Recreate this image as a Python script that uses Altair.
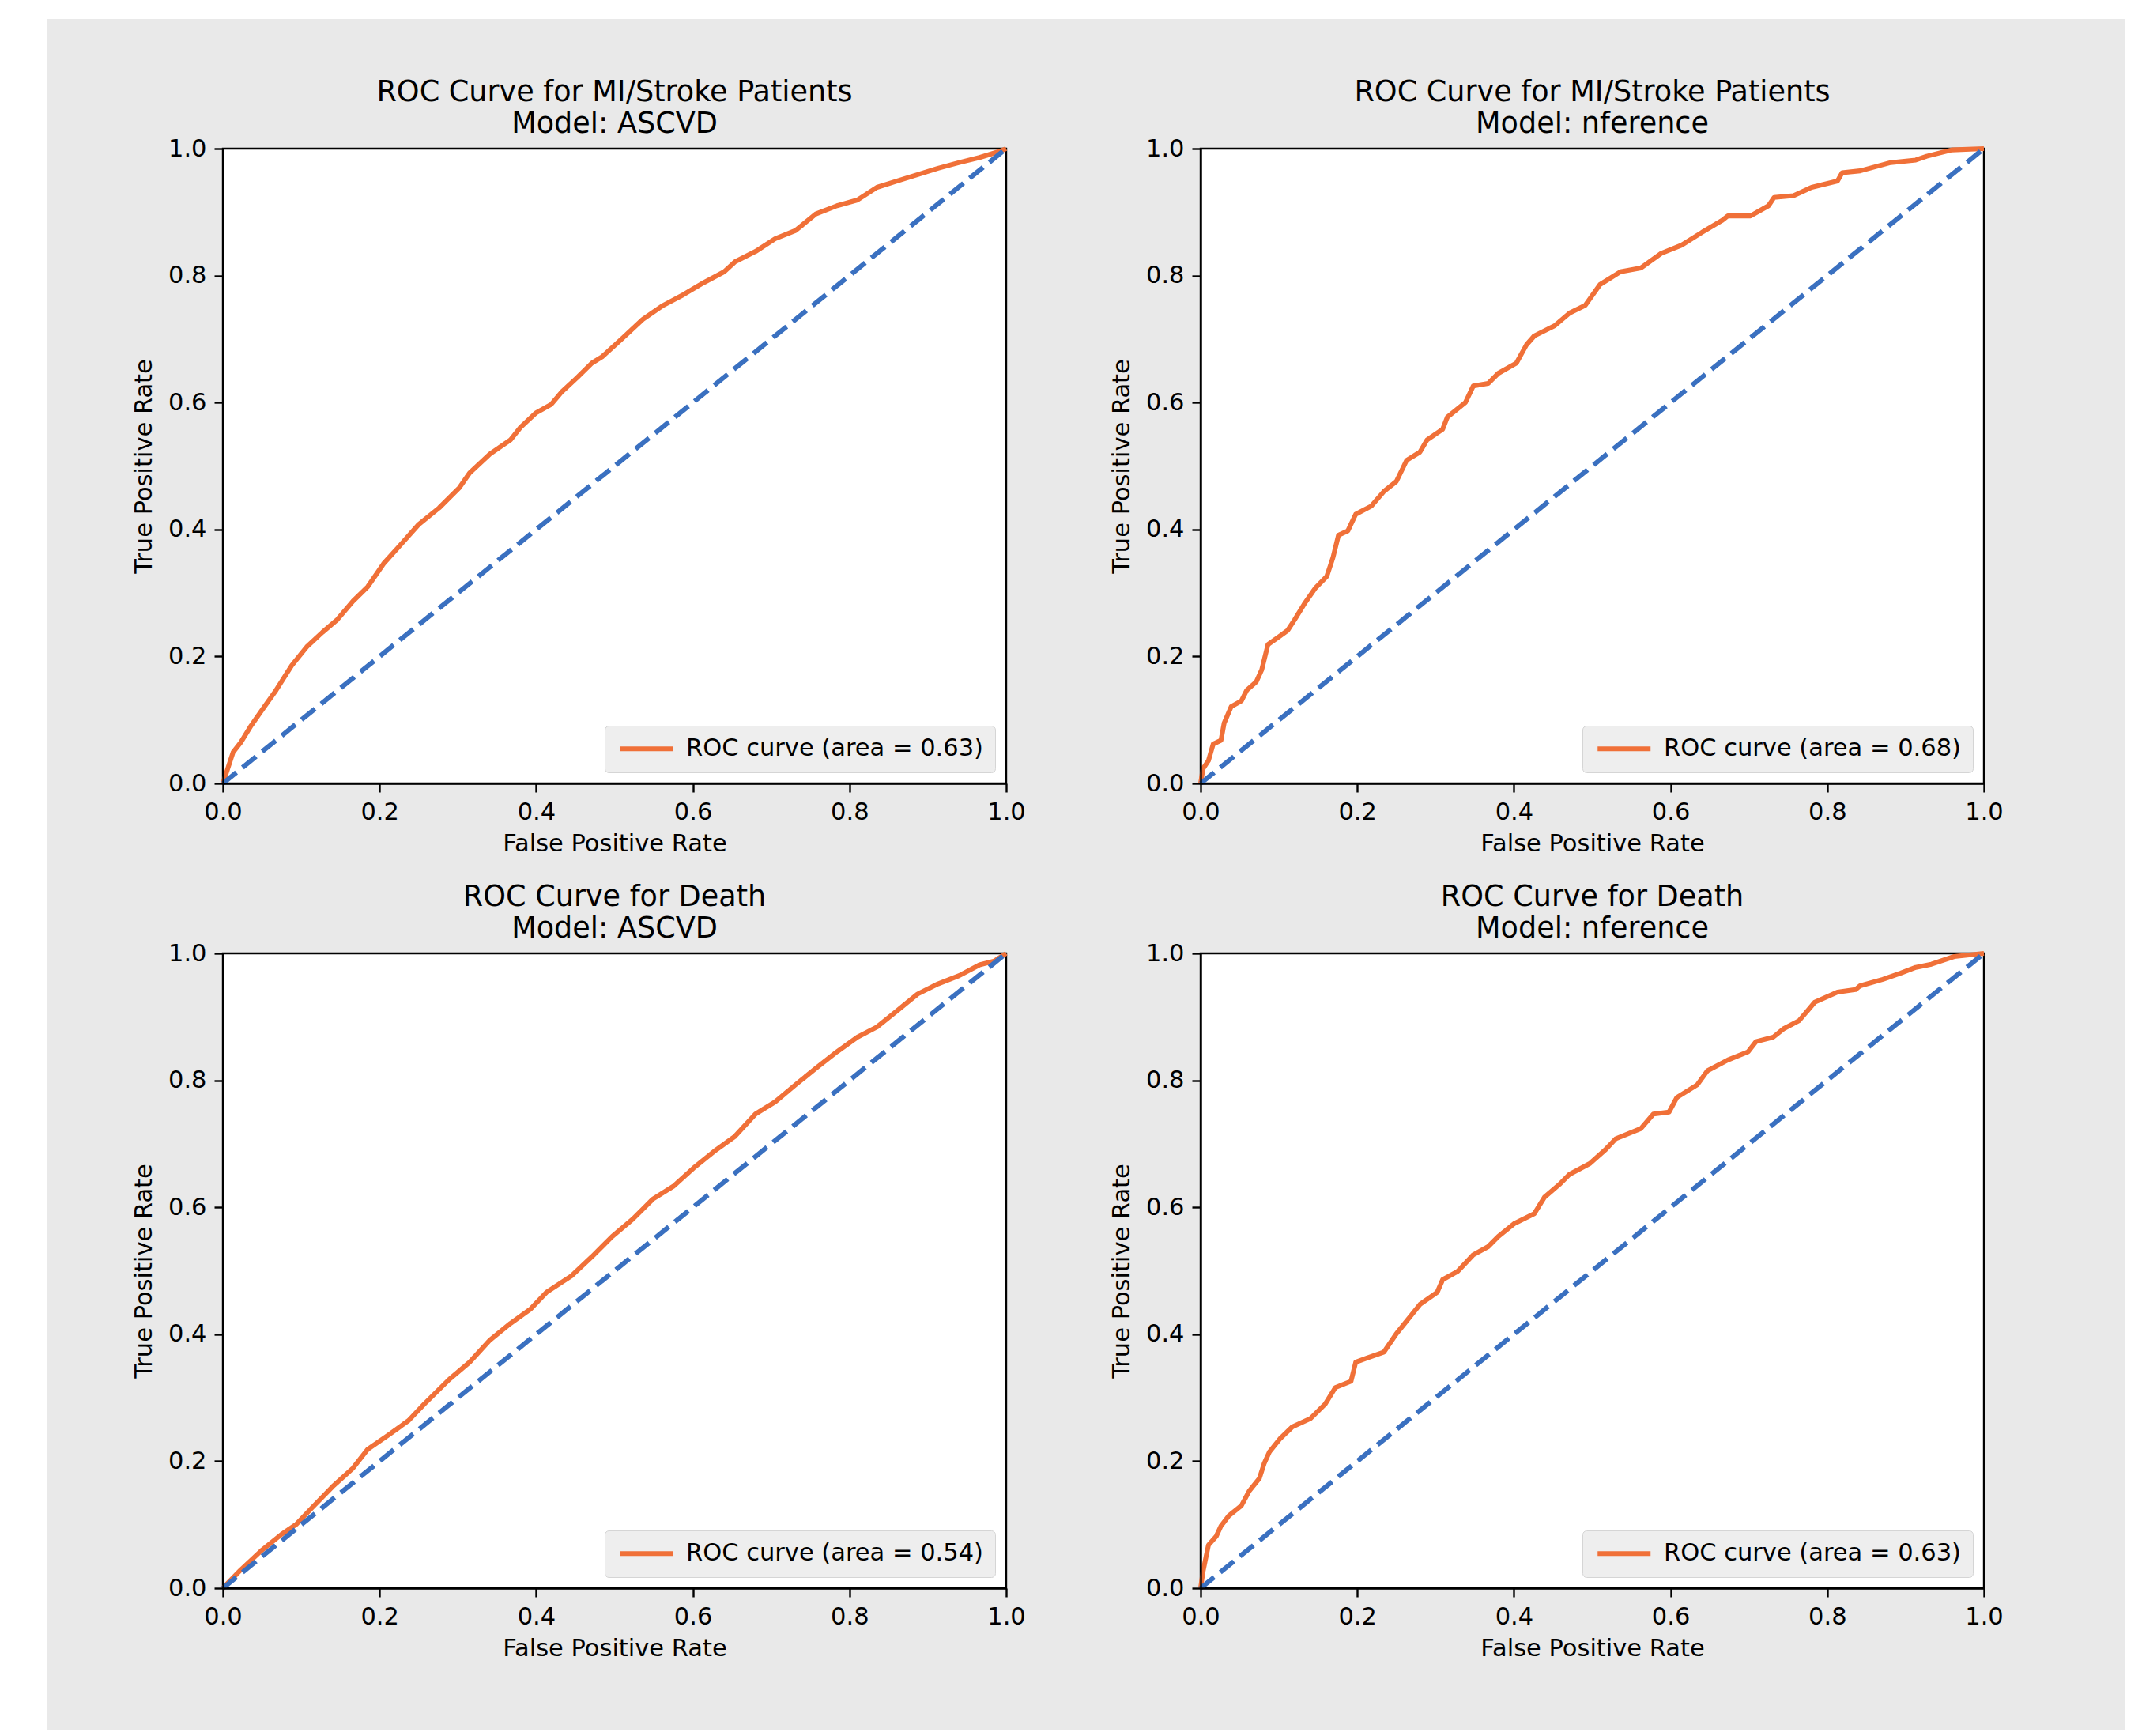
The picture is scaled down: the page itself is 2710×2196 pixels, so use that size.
import altair as alt
import pandas as pd

ORANGE = "#f07038"
BLUE = "#3a70c0"
BG = "#e9e9e9"
FONT = "DejaVu Sans"

tick_values = [0.0, 0.2, 0.4, 0.6, 0.8, 1.0]

# Panel 1: MI/Stroke, ASCVD
fpr_mi_ascvd = [0.0, 0.013, 0.023, 0.036, 0.049, 0.068, 0.088, 0.107, 0.127, 0.146, 0.166, 0.185, 0.205,
                0.224, 0.250, 0.276, 0.302, 0.315, 0.341, 0.367, 0.380, 0.400, 0.419, 0.432, 0.452, 0.471,
                0.484, 0.510, 0.536, 0.562, 0.588, 0.614, 0.640, 0.654, 0.680, 0.705, 0.731, 0.744, 0.757,
                0.784, 0.810, 0.835, 0.861, 0.887, 0.913, 0.940, 0.966, 0.990, 1.0]
tpr_mi_ascvd = [0.0, 0.049, 0.065, 0.091, 0.114, 0.147, 0.186, 0.215, 0.238, 0.258, 0.287, 0.310, 0.346,
                0.372, 0.408, 0.434, 0.466, 0.489, 0.519, 0.541, 0.561, 0.584, 0.597, 0.616, 0.639, 0.662,
                0.672, 0.701, 0.731, 0.753, 0.770, 0.789, 0.806, 0.822, 0.838, 0.858, 0.871, 0.884, 0.897,
                0.910, 0.919, 0.939, 0.949, 0.959, 0.969, 0.978, 0.986, 0.995, 1.0]

# Panel 2: MI/Stroke, nference
fpr_mi_nf = [0.0, 0.003, 0.010, 0.016, 0.026, 0.030, 0.039, 0.052, 0.059, 0.071, 0.078, 0.086, 0.101, 0.111,
             0.120, 0.133, 0.146, 0.161, 0.169, 0.176, 0.188, 0.198, 0.218, 0.234, 0.250, 0.263, 0.280, 0.289,
             0.309, 0.315, 0.338, 0.348, 0.367, 0.380, 0.403, 0.416, 0.426, 0.452, 0.471, 0.491, 0.510, 0.536,
             0.562, 0.588, 0.614, 0.640, 0.666, 0.673, 0.702, 0.725, 0.732, 0.757, 0.780, 0.813, 0.819, 0.842,
             0.881, 0.913, 0.927, 0.959, 1.0]
tpr_mi_nf = [0.0, 0.023, 0.036, 0.062, 0.068, 0.095, 0.121, 0.130, 0.147, 0.160, 0.179, 0.219, 0.232, 0.241,
             0.258, 0.284, 0.307, 0.326, 0.356, 0.391, 0.398, 0.424, 0.437, 0.460, 0.476, 0.509, 0.522, 0.541,
             0.558, 0.577, 0.600, 0.626, 0.630, 0.646, 0.662, 0.691, 0.705, 0.721, 0.741, 0.753, 0.786, 0.806,
             0.812, 0.835, 0.848, 0.868, 0.887, 0.894, 0.894, 0.910, 0.923, 0.926, 0.939, 0.949, 0.962, 0.965,
             0.978, 0.982, 0.988, 0.998, 1.0]

# Panel 3: Death, ASCVD
fpr_death_ascvd = [0.0, 0.023, 0.049, 0.075, 0.094, 0.114, 0.140, 0.166, 0.185, 0.211, 0.237, 0.257, 0.289,
                   0.315, 0.341, 0.367, 0.393, 0.413, 0.445, 0.471, 0.497, 0.523, 0.549, 0.575, 0.601, 0.627,
                   0.653, 0.680, 0.705, 0.731, 0.757, 0.784, 0.810, 0.835, 0.861, 0.887, 0.913, 0.940, 0.966,
                   0.985, 1.0]
tpr_death_ascvd = [0.0, 0.029, 0.059, 0.085, 0.101, 0.127, 0.160, 0.189, 0.219, 0.241, 0.264, 0.290, 0.329,
                   0.356, 0.391, 0.417, 0.440, 0.466, 0.492, 0.522, 0.554, 0.581, 0.613, 0.633, 0.662, 0.688,
                   0.711, 0.747, 0.766, 0.793, 0.819, 0.845, 0.868, 0.884, 0.910, 0.936, 0.952, 0.965, 0.982,
                   0.988, 1.0]

# Panel 4: Death, nference
fpr_death_nf = [0.0, 0.003, 0.010, 0.020, 0.026, 0.036, 0.052, 0.062, 0.075, 0.081, 0.088, 0.101, 0.117,
                0.140, 0.159, 0.172, 0.192, 0.198, 0.211, 0.234, 0.250, 0.267, 0.280, 0.302, 0.309, 0.328,
                0.348, 0.367, 0.380, 0.400, 0.426, 0.439, 0.458, 0.471, 0.497, 0.517, 0.530, 0.562, 0.578,
                0.598, 0.608, 0.634, 0.647, 0.673, 0.699, 0.709, 0.731, 0.744, 0.764, 0.784, 0.813, 0.836,
                0.842, 0.871, 0.894, 0.913, 0.933, 0.962, 1.0]
tpr_death_nf = [0.0, 0.026, 0.068, 0.082, 0.098, 0.114, 0.130, 0.153, 0.173, 0.196, 0.215, 0.235, 0.254,
                0.267, 0.290, 0.316, 0.326, 0.356, 0.362, 0.372, 0.401, 0.427, 0.447, 0.466, 0.486, 0.499,
                0.525, 0.538, 0.554, 0.574, 0.590, 0.616, 0.636, 0.652, 0.669, 0.691, 0.708, 0.724, 0.747,
                0.750, 0.773, 0.793, 0.815, 0.832, 0.845, 0.861, 0.868, 0.881, 0.894, 0.923, 0.939, 0.943,
                0.949, 0.959, 0.969, 0.978, 0.983, 0.995, 1.0]

panels = [
    (["ROC Curve for MI/Stroke Patients", "Model: ASCVD"], fpr_mi_ascvd, tpr_mi_ascvd, 0.63),
    (["ROC Curve for MI/Stroke Patients", "Model: nference"], fpr_mi_nf, tpr_mi_nf, 0.68),
    (["ROC Curve for Death", "Model: ASCVD"], fpr_death_ascvd, tpr_death_ascvd, 0.54),
    (["ROC Curve for Death", "Model: nference"], fpr_death_nf, tpr_death_nf, 0.63),
]

W, H = 991, 803
LW = 6.1
BG_TOP = 164  # figure background extends this far above the first panel


def make_panel(title, fpr, tpr, auc, first=False):
    label = f"ROC curve (area = {auc:.2f})"
    df = pd.DataFrame({"fpr": fpr, "tpr": tpr, "i": list(range(len(fpr))), "label": label})
    diag = pd.DataFrame({"fpr": [0.0, 1.0], "tpr": [0.0, 1.0]})
    x = alt.X("fpr:Q", scale=alt.Scale(domain=[0, 1], nice=False, zero=False),
              axis=alt.Axis(title="False Positive Rate", values=tick_values, format=".1f", zindex=2))
    y = alt.Y("tpr:Q", scale=alt.Scale(domain=[0, 1], nice=False, zero=False),
              axis=alt.Axis(title="True Positive Rate", values=tick_values, format=".1f", zindex=2))
    roc = alt.Chart(df).mark_line(strokeWidth=LW, strokeJoin="round").encode(
        x=x, y=y, order="i:Q",
        color=alt.Color("label:N", scale=alt.Scale(range=[ORANGE]),
                        legend=alt.Legend(title=None, orient="bottom-right", offset=14,
                                          symbolType="M-3.35,0H3.35", symbolSize=400,
                                          symbolOffset=23.5, symbolStrokeWidth=LW,
                                          labelOffset=35,
                                          labelFontSize=30.5, labelFont=FONT, labelColor="black",
                                          fillColor="#eeeeee", strokeColor="#d5d5d5",
                                          cornerRadius=5, padding=14, labelLimit=800, zindex=2))
    )
    dline = alt.Chart(diag).mark_line(color=BLUE, strokeWidth=LW, strokeDash=[22, 10]).encode(x=x, y=y)
    layers = [roc, dline]
    offset = -3
    if first:
        one = pd.DataFrame({"k": [0]})
        # figure background panel (decorative) and the white axes frame
        figbg = alt.Chart(one).mark_rect(fill=BG, clip=False).encode(
            x=alt.value(-222), x2=alt.value(2406), y=alt.value(-BG_TOP), y2=alt.value(2000))
        frame = alt.Chart(one).mark_rect(fill="white", stroke="black", strokeWidth=2.4).encode(
            x=alt.value(0), x2=alt.value(W), y=alt.value(0), y2=alt.value(H))
        layers = [figbg, frame] + layers
        offset = -3 - BG_TOP + 15.5
    return alt.layer(*layers).properties(
        width=W, height=H,
        title=alt.Title(text=title, fontSize=36.6, font=FONT, fontWeight="normal", color="black",
                        anchor="middle", lineHeight=40, offset=offset, zindex=2, frame="group"),
    )


charts = [make_panel(*p, first=(k == 0)) for k, p in enumerate(panels)]

chart = alt.concat(*charts, columns=2).resolve_scale(color="independent").properties(
    bounds="flush",
    spacing={"row": 215, "column": 246},
    padding={"left": 50, "top": 14, "right": 0, "bottom": 0},
    background="white",
).configure_view(
    stroke="black", strokeWidth=2.4, fill="white"
).configure_axis(
    grid=False, domainColor="black", domainWidth=2.4, tickColor="black", tickWidth=2.4, tickSize=11,
    labelFont=FONT, labelFontSize=30.5, labelColor="black", labelPadding=10,
    labelFlush=False, labelOverlap=False,
    titleFont=FONT, titleFontSize=30.5, titleFontWeight="normal", titleColor="black",
).configure_axisX(titlePadding=10).configure_axisY(titlePadding=15)

chart.save("out.html", embed_options={"renderer": "svg", "actions": False})
